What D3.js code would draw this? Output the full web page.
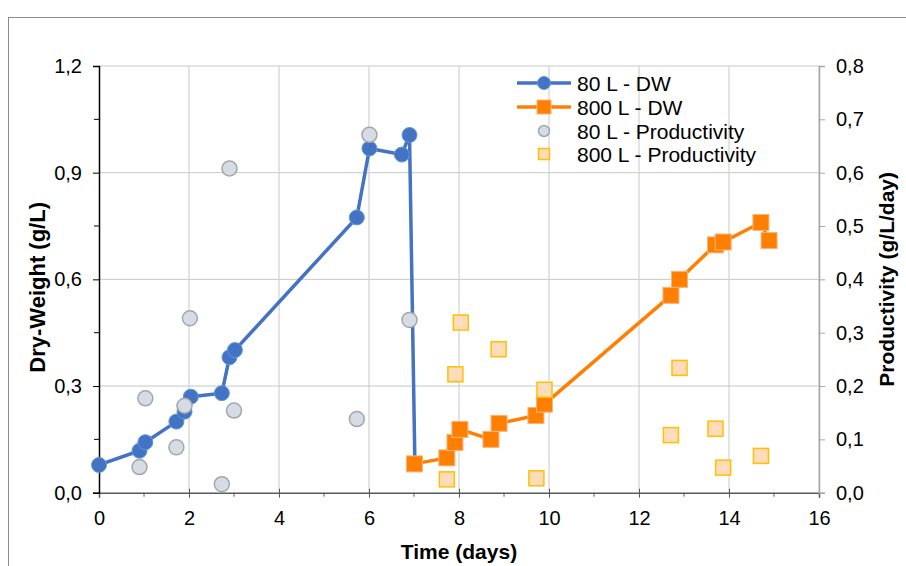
<!DOCTYPE html>
<html>
<head>
<meta charset="utf-8">
<script src="https://cdn.jsdelivr.net/npm/d3@7"></script>
<style>
  body { margin: 0; background: #fff; }
  svg { display: block; font-family: "Liberation Sans", Arial, sans-serif; }
</style>
</head>
<body>
<div id="chart"></div>
<script>
// 80 L reactor: dry weight and productivity
let time80 = [0, 0.9, 1.03, 1.72, 1.9, 2.04, 2.73, 2.9, 3.02, 5.73, 6.01, 6.73, 6.9, 7.02];
let dw80 = [0.078, 0.118, 0.142, 0.200, 0.228, 0.270, 0.280, 0.381, 0.401, 0.774, 0.968, 0.951, 1.006, 0.081];
let timeProd80 = [0.9, 1.03, 1.72, 1.9, 2.02, 2.73, 2.9, 3.0, 5.73, 6.01, 6.9];
let prod80 = [0.048, 0.177, 0.085, 0.163, 0.327, 0.016, 0.608, 0.154, 0.138, 0.671, 0.324];

// 800 L reactor
let time800 = [7.01, 7.73, 7.91, 8.02, 8.71, 8.89, 9.71, 9.90, 12.71, 12.90, 13.70, 13.87, 14.71, 14.89];
let dw800 = [0.081, 0.098, 0.141, 0.178, 0.150, 0.195, 0.217, 0.249, 0.555, 0.600, 0.697, 0.705, 0.760, 0.709];
let timeProd800 = [7.73, 7.92, 8.04, 8.88, 9.72, 9.90, 12.71, 12.90, 13.70, 13.87, 14.71];
let prod800 = [0.025, 0.222, 0.319, 0.269, 0.027, 0.193, 0.108, 0.234, 0.120, 0.047, 0.069];

let xTicks = [0, 2, 4, 6, 8, 10, 12, 14, 16];
let yLeftTicks = [0, 0.3, 0.6, 0.9, 1.2];
let yRightTicks = [0, 0.1, 0.2, 0.3, 0.4, 0.5, 0.6, 0.7, 0.8];
let legendLabels = ['80 L - DW', '800 L - DW', '80 L - Productivity', '800 L - Productivity'];

let width = 906,
    height = 566,
    margins = { top: 66, right: 87, bottom: 73.3, left: 99 };

let fmt = d => d3.format('.1f')(d).replace('.', ',');

let $svg = d3.select('#chart').append('svg')
  .attr('width', width)
  .attr('height', height);

// outer chart border (runs off the right/bottom of the image)
$svg.append('rect')
  .attr('x', 8.5).attr('y', 17.5)
  .attr('width', 1000).attr('height', 1000)
  .attr('fill', 'none')
  .attr('stroke', '#8c8c8c');

let x = d3.scaleLinear().domain([0, 16]).range([margins.left, width - margins.right]);
let yL = d3.scaleLinear().domain([0, 1.2]).range([height - margins.bottom, margins.top]);
let yR = d3.scaleLinear().domain([0, 0.8]).range([height - margins.bottom, margins.top]);

// gridlines
let $grid = $svg.append('g');
$grid.selectAll('.vgrid')
  .data(xTicks.slice(1))
  .enter().append('line')
  .attr('x1', d => x(d)).attr('x2', d => x(d))
  .attr('y1', yL(0)).attr('y2', yL(1.2))
  .attr('stroke', '#c8c8c8').attr('stroke-width', 1);
$grid.selectAll('.hgrid')
  .data(yLeftTicks.slice(1))
  .enter().append('line')
  .attr('x1', x(0)).attr('x2', x(16))
  .attr('y1', d => yL(d)).attr('y2', d => yL(d))
  .attr('stroke', '#c8c8c8').attr('stroke-width', 1);

// axes
let $xAxis = $svg.append('g')
  .attr('transform', `translate(0,${yL(0)})`)
  .call(d3.axisBottom(x).tickValues(xTicks).tickFormat(d3.format('d')).tickSize(5).tickPadding(13));
$xAxis.selectAll('.tick line').attr('y1', -4);
$xAxis.selectAll('.tick').filter(d => d === 0 || d === 16).select('line').attr('y1', 0);
$xAxis.append('g').selectAll('line')
  .data(d3.range(1, 16, 2))
  .enter().append('line')
  .attr('x1', d => x(d)).attr('x2', d => x(d))
  .attr('y1', 0).attr('y2', 4)
  .attr('stroke', '#595959');

let $yLeft = $svg.append('g')
  .attr('transform', `translate(${x(0)},0)`)
  .call(d3.axisLeft(yL).tickValues(yLeftTicks).tickFormat(fmt).tickSize(6).tickPadding(11));
$yLeft.append('g').selectAll('line')
  .data([0.15, 0.45, 0.75, 1.05])
  .enter().append('line')
  .attr('x1', -5).attr('x2', 0)
  .attr('y1', d => yL(d)).attr('y2', d => yL(d))
  .attr('stroke', '#000');

let $yRight = $svg.append('g')
  .attr('transform', `translate(${x(16)},0)`)
  .call(d3.axisRight(yR).tickValues(yRightTicks).tickFormat(fmt).tickSize(6).tickPadding(11));

$svg.selectAll('.domain').attr('stroke-width', 1.5);
$xAxis.select('.domain').attr('stroke', '#595959');
$xAxis.selectAll('.tick line').attr('stroke', '#595959');
$yRight.select('.domain').attr('stroke', '#a6a6a6');
$yRight.selectAll('.tick line').attr('stroke', '#a6a6a6');
$svg.selectAll('.tick text')
  .attr('font-size', 20)
  .attr('font-family', '"Liberation Sans", Arial, sans-serif')
  .attr('fill', '#000');

// axis titles
$svg.append('text')
  .attr('x', (x(0) + x(16)) / 2).attr('y', 559)
  .attr('text-anchor', 'middle')
  .attr('font-size', 21).attr('font-weight', 'bold')
  .text('Time (days)');
$svg.append('text')
  .attr('transform', `translate(37,${(yL(0) + yL(1.2)) / 2 + 8}) rotate(-90)`)
  .attr('text-anchor', 'middle').attr('dominant-baseline', 'central')
  .attr('font-size', 22).attr('font-weight', 'bold')
  .text('Dry-Weight (g/L)');
$svg.append('text')
  .attr('transform', `translate(886,${(yL(0) + yL(1.2)) / 2}) rotate(-90)`)
  .attr('text-anchor', 'middle').attr('dominant-baseline', 'central')
  .attr('font-size', 21).attr('font-weight', 'bold')
  .text('Productivity (g/L/day)');

// series
let blue = '#4472c4', orange = '#ff7f00';
let pts = (xs, ys) => xs.map((t, i) => [t, ys[i]]);

let $plot = $svg.append('g');

let line = yScale => d3.line().x(d => x(d[0])).y(d => yScale(d[1]));

$plot.append('path')
  .datum(pts(time80, dw80))
  .attr('d', line(yL))
  .attr('fill', 'none').attr('stroke', blue).attr('stroke-width', 3.5)
  .attr('stroke-linejoin', 'round');
$plot.selectAll('.dw80')
  .data(pts(time80, dw80))
  .enter().append('circle')
  .attr('cx', d => x(d[0])).attr('cy', d => yL(d[1]))
  .attr('r', 7.5)
  .attr('fill', blue).attr('stroke', '#5b9bd5').attr('stroke-width', 1);

$plot.append('path')
  .datum(pts(time800, dw800))
  .attr('d', line(yL))
  .attr('fill', 'none').attr('stroke', orange).attr('stroke-width', 3.5)
  .attr('stroke-linejoin', 'round');
$plot.selectAll('.dw800')
  .data(pts(time800, dw800))
  .enter().append('rect')
  .attr('x', d => x(d[0]) - 8).attr('y', d => yL(d[1]) - 8)
  .attr('width', 16).attr('height', 16)
  .attr('fill', orange).attr('stroke', '#f8b47a').attr('stroke-width', 1);

$plot.selectAll('.p80')
  .data(pts(timeProd80, prod80))
  .enter().append('circle')
  .attr('cx', d => x(d[0])).attr('cy', d => yR(d[1]))
  .attr('r', 7.5)
  .attr('fill', '#d6dce5').attr('stroke', '#a6a6a6').attr('stroke-width', 1.5);

$plot.selectAll('.p800')
  .data(pts(timeProd800, prod800))
  .enter().append('rect')
  .attr('x', d => x(d[0]) - 7.5).attr('y', d => yR(d[1]) - 7.5)
  .attr('width', 15).attr('height', 15)
  .attr('fill', '#fddcbb').attr('stroke', '#ffc000').attr('stroke-width', 1.5);

// legend
let legendRows = [83, 107, 131, 154];
let $legend = $svg.append('g');
legendLabels.forEach((label, i) => {
  let y = legendRows[i];
  let $row = $legend.append('g');
  if (i === 0) {
    $row.append('line').attr('x1', 517).attr('x2', 571).attr('y1', y).attr('y2', y)
      .attr('stroke', blue).attr('stroke-width', 3.5);
    $row.append('circle').attr('cx', 544).attr('cy', y).attr('r', 6.5)
      .attr('fill', blue).attr('stroke', '#5b9bd5');
  } else if (i === 1) {
    $row.append('line').attr('x1', 517).attr('x2', 571).attr('y1', y).attr('y2', y)
      .attr('stroke', orange).attr('stroke-width', 3.5);
    $row.append('rect').attr('x', 537).attr('y', y - 7).attr('width', 14).attr('height', 14)
      .attr('fill', orange).attr('stroke', '#f8b47a');
  } else if (i === 2) {
    $row.append('circle').attr('cx', 544).attr('cy', y).attr('r', 5.5)
      .attr('fill', '#d6dce5').attr('stroke', '#a6a6a6').attr('stroke-width', 1.5);
  } else {
    $row.append('rect').attr('x', 538.5).attr('y', y - 5.5).attr('width', 11).attr('height', 11)
      .attr('fill', '#fddcbb').attr('stroke', '#ffc000').attr('stroke-width', 1.5);
  }
  $row.append('text')
    .attr('x', 577).attr('y', y)
    .attr('dominant-baseline', 'central')
    .attr('font-size', 21)
    .text(label);
});
</script>
</body>
</html>
